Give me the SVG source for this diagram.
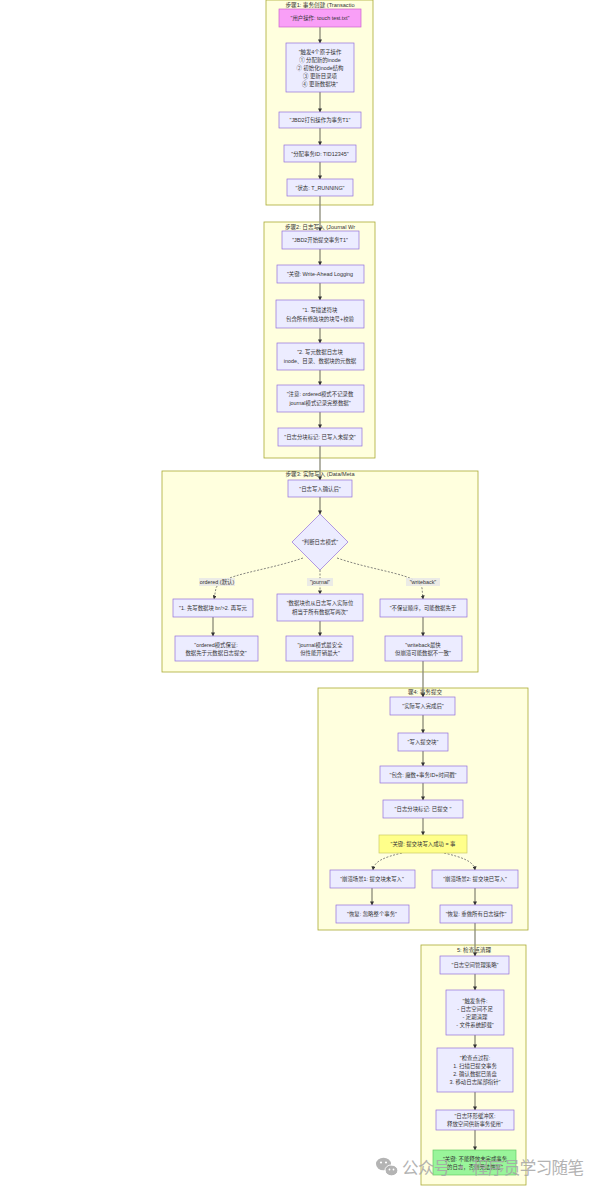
<svg xmlns="http://www.w3.org/2000/svg" width="605" height="1191" viewBox="0 0 605 1191">
<style>
.bg{fill:#ffffff}
.cl{fill:#ffffde;stroke:#aaaa33;stroke-width:0.8}
.nd{fill:#ececff;stroke:#9370db;stroke-width:0.7}
.pk{fill:#f99ff7;stroke:#cc66cc;stroke-width:0.7}
.yl{fill:#ffff8a;stroke:#cccc66;stroke-width:0.7}
.gr{fill:#99f59a;stroke:#66cc66;stroke-width:0.7}
text{font-family:"Liberation Sans","Noto Sans CJK SC",sans-serif;font-size:5.4px;fill:#333;text-anchor:middle;dominant-baseline:central}
.tt{font-size:5.6px}
.e{fill:none;stroke:#8a8a78;stroke-width:1.3;marker-end:url(#ah)}
.d{fill:none;stroke:#666;stroke-width:0.8;stroke-dasharray:2 1.5;marker-end:url(#ah)}
.lb{fill:#e8e8e8;opacity:0.85}
.wm{font-family:"Noto Sans CJK SC",sans-serif;font-size:16.5px;fill:#a6a6a6;opacity:0.85;text-anchor:start}
.wi{fill:#acacac;opacity:0.9}
</style>
<defs>
<marker id="ah" viewBox="0 0 10 10" refX="9" refY="5" markerWidth="4" markerHeight="4" markerUnits="userSpaceOnUse" orient="auto">
<path d="M0,0 L10,5 L0,10 z" fill="#333"/>
</marker>
</defs>
<rect class="bg" x="0" y="0" width="605" height="1191"/>

<g id="clusters">
<g id="step1"><rect class="cl" x="266" y="0" width="107" height="205"/><text class="tt" x="320" y="5">步骤1: 事务创建 (Transactio</text></g>
<g id="step2"><rect class="cl" x="264" y="222" width="111" height="236"/><text class="tt" x="320" y="227">步骤2: 日志写入 (Journal Wr</text></g>
<g id="step3"><rect class="cl" x="162" y="471" width="316" height="201"/><text class="tt" x="320" y="474">步骤3: 实际写入 (Data/Meta</text></g>
<g id="step4"><rect class="cl" x="318" y="688" width="210" height="242"/><text class="tt" x="425" y="692">骤4: 事务提交</text></g>
<g id="step5"><rect class="cl" x="421" y="945" width="105" height="240"/><text class="tt" x="474" y="950">5: 检查点清理</text></g>
</g>

<g id="connectors">
<path class="e" d="M320,27 L320,43"/>
<path class="e" d="M320,92 L320,112"/>
<path class="e" d="M320,128 L320,145"/>
<path class="e" d="M320,162 L320,179"/>
<path class="e" d="M320,196 L320,231"/>
<path class="e" d="M320,249 L320,265"/>
<path class="e" d="M320,283 L320,300"/>
<path class="e" d="M320,328 L320,343"/>
<path class="e" d="M320,370 L320,385"/>
<path class="e" d="M320,412 L320,428"/>
<path class="e" d="M320,446 L320,480"/>
<path class="e" d="M320,497 L320,514"/>
<path class="d" d="M303,558 C262,572 222,574 216,588 L214,599"/>
<path class="d" d="M320,570 L320,594"/>
<path class="d" d="M337,558 C378,572 418,574 422,588 L423,599"/>
<path class="e" d="M213,617 L213,636"/>
<path class="e" d="M320,621 L320,636"/>
<path class="e" d="M423,617 L423,636"/>
<path class="e" d="M423,661 L423,697"/>
<path class="e" d="M423,715 L423,733"/>
<path class="e" d="M423,751 L423,766"/>
<path class="e" d="M423,783 L423,800"/>
<path class="e" d="M423,818 L423,835"/>
<path class="d" d="M402,853 C385,857 374,861 373,870"/>
<path class="d" d="M444,853 C461,857 474,861 475,870"/>
<path class="e" d="M372,888 L372,905"/>
<path class="e" d="M475,888 L475,905"/>
<path class="e" d="M475,923 L475,956"/>
<path class="e" d="M475,974 L475,990"/>
<path class="e" d="M475,1035 L475,1048"/>
<path class="e" d="M475,1092 L475,1110"/>
<path class="e" d="M475,1130 L475,1150"/>
</g>

<g id="edge-labels">
<rect class="lb" x="199" y="578" width="36" height="8"/><text x="217" y="582">ordered (默认)</text>
<rect class="lb" x="307" y="578" width="26" height="8"/><text x="320" y="582">"journal"</text>
<rect class="lb" x="406" y="578" width="34" height="8"/><text x="423" y="582">"writeback"</text>
</g>

<g id="n1"><rect class="pk" x="279" y="9" width="82" height="18"/><text x="320" y="18">"用户操作: touch test.txt"</text></g>
<g id="n2"><rect class="nd" x="286" y="43" width="68" height="49"/>
<text x="320" y="51.5">"触发4个原子操作</text><text x="320" y="59.5">① 分配新的inode</text><text x="320" y="67.5">② 初始化inode结构</text><text x="320" y="75.5">③ 更新目录项</text><text x="320" y="83.5">④ 更新数据块"</text></g>
<g id="n3"><rect class="nd" x="279" y="112" width="82" height="16"/><text x="320" y="120">"JBD2打包操作为事务T1"</text></g>
<g id="n4"><rect class="nd" x="284" y="145" width="72" height="17"/><text x="320" y="153.5">"分配事务ID: TID12345"</text></g>
<g id="n5"><rect class="nd" x="287" y="179" width="66" height="17"/><text x="320" y="187.5">"状态: T_RUNNING"</text></g>

<g id="m1"><rect class="nd" x="282" y="231" width="77" height="18"/><text x="320" y="240">"JBD2开始提交事务T1"</text></g>
<g id="m2"><rect class="nd" x="277" y="265" width="87" height="18"/><text x="320" y="274">"关键: Write-Ahead Logging</text></g>
<g id="m3"><rect class="nd" x="276" y="300" width="88" height="28"/><text x="320" y="309.5">"1. 写描述符块</text><text x="320" y="318.5">包含所有修改块的块号+校验</text></g>
<g id="m4"><rect class="nd" x="277" y="343" width="87" height="27"/><text x="320" y="352">"2. 写元数据日志块</text><text x="320" y="361">inode、目录、数据块的元数据</text></g>
<g id="m5"><rect class="nd" x="277" y="385" width="87" height="27"/><text x="320" y="394">"注意: ordered模式不记录数</text><text x="320" y="403">journal模式记录完整数据"</text></g>
<g id="m6"><rect class="nd" x="278" y="428" width="84" height="18"/><text x="320" y="437">"日志分块标记: 已写入未提交"</text></g>

<g id="s1"><rect class="nd" x="288" y="480" width="64" height="17"/><text x="320" y="488.5">"日志写入确认后"</text></g>
<g id="s-dec"><path class="nd" d="M320,514 L348,542 L320,570 L292,542 Z"/><text x="320" y="542">"判断日志模式"</text></g>
<g id="s2"><rect class="nd" x="173" y="599" width="80" height="18"/><text x="213" y="608">"1. 先写数据块 br/&gt;2. 再写元</text></g>
<g id="s3"><rect class="nd" x="277" y="594" width="86" height="27"/><text x="320" y="603">"数据块也从日志写入实际位</text><text x="320" y="612">相当于所有数据写两次"</text></g>
<g id="s4"><rect class="nd" x="380" y="599" width="87" height="18"/><text x="423" y="608">"不保证顺序，可能数据先于</text></g>
<g id="s5"><rect class="nd" x="175" y="636" width="83" height="25"/><text x="216" y="644.5">"ordered模式保证:</text><text x="216" y="653">数据先于元数据日志提交"</text></g>
<g id="s6"><rect class="nd" x="286" y="636" width="67" height="25"/><text x="320" y="644.5">"journal模式最安全</text><text x="320" y="653">但性能开销最大"</text></g>
<g id="s7"><rect class="nd" x="385" y="636" width="77" height="25"/><text x="423" y="644.5">"writeback最快</text><text x="423" y="653">但崩溃可能数据不一致"</text></g>

<g id="t1"><rect class="nd" x="390" y="697" width="65" height="18"/><text x="423" y="706">"实际写入完成后"</text></g>
<g id="t2"><rect class="nd" x="398" y="733" width="50" height="18"/><text x="423" y="742">"写入提交块"</text></g>
<g id="t3"><rect class="nd" x="380" y="766" width="87" height="17"/><text x="423" y="774.5">"包含: 魔数+事务ID+时间戳"</text></g>
<g id="t4"><rect class="nd" x="383" y="800" width="80" height="18"/><text x="423" y="809">"日志分块标记: 已提交 "</text></g>
<g id="t5"><rect class="yl" x="379" y="835" width="88" height="18"/><text x="423" y="844">"关键: 提交块写入成功 = 事</text></g>
<g id="t6"><rect class="nd" x="330" y="870" width="85" height="18"/><text x="372" y="879">"崩溃场景1: 提交块未写入"</text></g>
<g id="t7"><rect class="nd" x="432" y="870" width="86" height="18"/><text x="475" y="879">"崩溃场景2: 提交块已写入"</text></g>
<g id="t8"><rect class="nd" x="336" y="905" width="73" height="18"/><text x="372" y="914">"恢复: 忽略整个事务"</text></g>
<g id="t9"><rect class="nd" x="440" y="905" width="72" height="18"/><text x="476" y="914">"恢复: 重做所有日志操作"</text></g>

<g id="u1"><rect class="nd" x="440" y="956" width="69" height="18"/><text x="475" y="965">"日志空间管理策略"</text></g>
<g id="u2"><rect class="nd" x="446" y="990" width="58" height="45"/><text x="475" y="1000.5">"触发条件:</text><text x="475" y="1008.5">- 日志空间不足</text><text x="475" y="1016.5">- 定期清理</text><text x="475" y="1024.5">- 文件系统卸载"</text></g>
<g id="u3"><rect class="nd" x="437" y="1048" width="76" height="44"/><text x="475" y="1058">"检查点过程:</text><text x="475" y="1066">1. 扫描已提交事务</text><text x="475" y="1074">2. 确认数据已落盘</text><text x="475" y="1082">3. 移动日志尾部指针"</text></g>
<g id="u4"><rect class="nd" x="436" y="1110" width="78" height="20"/><text x="475" y="1116">"日志环形缓冲区:</text><text x="475" y="1124">释放空间供新事务使用"</text></g>
<g id="u5"><rect class="gr" x="433" y="1150" width="83" height="25"/><text x="475" y="1158.5">"关键: 不能释放未完成事务</text><text x="475" y="1166.5">的日志，否则无法恢复"</text></g>

<g id="watermark">
<ellipse class="wi" cx="383.5" cy="1164" rx="7.5" ry="6.3"/>
<ellipse class="wi" cx="391.5" cy="1170.5" rx="6" ry="5"/>
<ellipse cx="391.5" cy="1170.5" rx="6.6" ry="5.6" fill="none" stroke="#fff" stroke-width="0.9"/>
<circle cx="381" cy="1162.5" r="1.1" fill="#fff"/><circle cx="386" cy="1162.5" r="1.1" fill="#fff"/>
<circle cx="389.5" cy="1169.5" r="0.9" fill="#fff"/><circle cx="393.5" cy="1169.5" r="0.9" fill="#fff"/>
<text class="wm" x="402" y="1167" textLength="182" lengthAdjust="spacing">公众号 · 程序员学习随笔</text>
</g>
</svg>
